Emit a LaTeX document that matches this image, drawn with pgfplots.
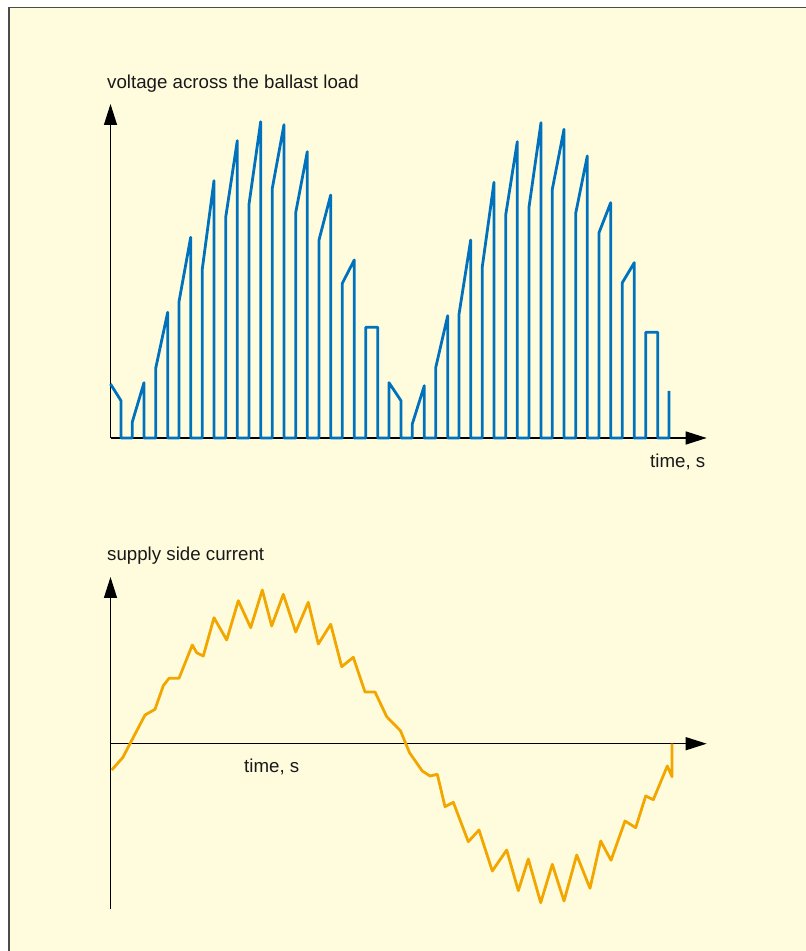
\documentclass[border=0pt]{standalone}
\usepackage{fontspec}
\setmainfont{Liberation Sans}
\usepackage{pgfplots}
\pgfplotsset{compat=1.18}
\usetikzlibrary{arrows.meta}
\definecolor{bgyellow}{RGB}{255,252,222}
\definecolor{vblue}{RGB}{0,113,188}
\definecolor{corange}{RGB}{242,166,0}
\begin{document}
\begin{tikzpicture}[x=1pt,y=1pt]
\useasboundingbox (0,0) rectangle (806,951);
\fill[white] (0,0) rectangle (806,951);
\fill[bgyellow] (9,0) rectangle (806,943.5);
\draw[black!70, line width=1.3pt] (9,0) -- (9,943.5) -- (806,943.5);

\pgfplotsset{myaxis/.style={
  x=1pt, y=1pt, clip=false,
  axis lines=middle, ticks=none,
  axis line style={black, line width=1.3pt, -{Triangle[length=21pt,width=13pt]}},
  anchor=south west,
}}

% top: voltage across the ballast load
\begin{axis}[myaxis, at={(110.5,513)}, xmin=0, xmax=596.2, ymin=0, ymax=334]
\addplot[vblue, line width=2.8pt, line join=round, mark=none] coordinates {
(0,54) (10.5,37.3) (10.5,0)
(21.8,0) (21.8,16) (33.5,55.3) (33.5,0)
(45.2,0) (45.2,69.7) (57.2,125.7) (57.2,0)
(68.5,0) (68.5,136.3) (80.2,200.7) (80.2,0)
(91.8,0) (91.8,169) (103.5,257.3) (103.5,0)
(115.2,0) (115.2,220.7) (126.8,297.3) (126.8,0)
(138.5,0) (138.5,233.7) (150.2,316.3) (150.2,0)
(161.8,0) (161.8,249.7) (173.5,313.3) (173.5,0)
(185.2,0) (185.2,225.3) (196.8,286.3) (196.8,0)
(208.5,0) (208.5,198) (220.2,243) (220.2,0)
(231.8,0) (231.8,154.7) (243.8,178) (243.8,0)
(255.2,0) (255.2,110.7) (267.2,110.7) (267.2,0)
(278.5,0) (278.5,55.3) (290.5,37.3) (290.5,0)
(301.8,0) (301.8,14) (313.8,52.3) (313.8,0)
(325.2,0) (325.2,70.3) (337.2,122.3) (337.2,0)
(348.5,0) (348.5,123.7) (360.2,198) (360.2,0)
(371.8,0) (371.8,171.3) (383.5,255.7) (383.5,0)
(395.2,0) (395.2,223) (406.8,296.3) (406.8,0)
(418.5,0) (418.5,230.7) (430.5,315.3) (430.5,0)
(441.8,0) (441.8,248.7) (453.5,308.7) (453.5,0)
(465.2,0) (465.2,224.7) (476.8,282) (476.8,0)
(488.5,0) (488.5,205.3) (500.2,235.3) (500.2,0)
(511.8,0) (511.8,155.3) (523.8,175.3) (523.8,0)
(535.2,0) (535.2,105.7) (547.2,105.7) (547.2,0)
(558.5,0) (558.5,47)
};
\end{axis}

% bottom: supply side current
\begin{axis}[myaxis, at={(110.5,41.7)}, xmin=0, xmax=596.2, ymin=-165.6, ymax=166.7]
\addplot[corange, line width=2.8pt, line join=round, mark=none] coordinates {
(1.2,-26.3) (12.2,-14) (34.5,28.7) (44.5,34.4) (52.8,58) (58.5,65.4)
(68.5,65.4) (81.8,98.7) (86.2,91) (92.8,87.7) (103.5,126) (116.2,103.7)
(127.8,143) (140.2,116) (151.8,153.7) (161.2,117.7) (172.8,149.4)
(185.2,111.7) (197.8,141.4) (207.8,99.7) (220.2,119.4) (231.2,77)
(242.8,86.4) (254.5,51.7) (264.5,51.7) (276.2,27) (290,12.9) (299,-9)
(311.8,-27.3) (319.5,-32.3) (326.8,-30.6) (334.5,-63) (342.8,-58.6)
(357.8,-98) (368.5,-86.3) (381.8,-127.3) (396.2,-106.3) (407.8,-147)
(417.8,-115.3) (430.2,-159) (441.8,-120.6) (453.5,-157.3) (466.2,-111.3)
(479.5,-144.6) (490.2,-97.3) (500.5,-116.6) (514.5,-77.3) (525.2,-84)
(535.2,-52.3) (542.8,-56) (556.8,-22.3) (561.5,-33) (561.5,0)
};
\end{axis}

\node[anchor=base west, inner sep=0pt, font=\fontsize{18.7}{22}\selectfont, text=black!90] at (107,862) {voltage across the ballast load};
\node[anchor=base west, inner sep=0pt, font=\fontsize{18.7}{22}\selectfont, text=black!90] at (650,483.3) {time, s};
\node[anchor=base west, inner sep=0pt, font=\fontsize{18.7}{22}\selectfont, text=black!90] at (107,390) {supply side current};
\node[anchor=base west, inner sep=0pt, font=\fontsize{18.7}{22}\selectfont, text=black!90] at (244,178.3) {time, s};
\end{tikzpicture}
\end{document}
